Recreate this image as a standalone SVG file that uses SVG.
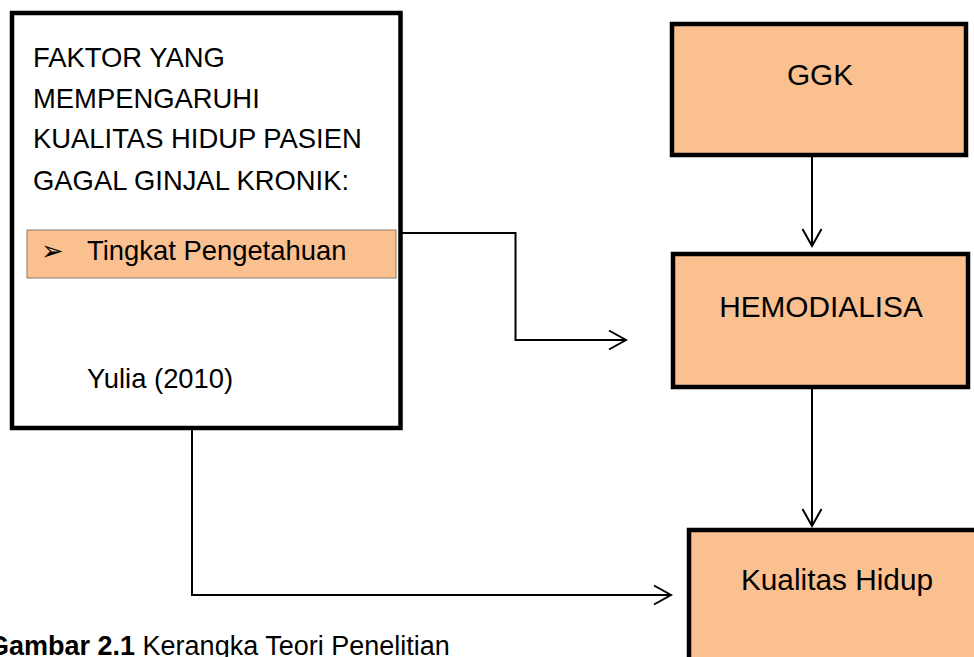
<svg xmlns="http://www.w3.org/2000/svg" width="974" height="657" viewBox="0 0 974 657">
<style>
.box{stroke:#000;stroke-width:4.5;}
.orange{fill:#FAC090;}
.t{font-family:"Liberation Sans",Arial,sans-serif;fill:#000;}
.l{font-size:27.4px;}
.r{font-size:29.8px;text-anchor:middle;}
.conn{fill:none;stroke:#000;stroke-width:2;}
</style>
<defs>
<marker id="arr" viewBox="-19 -11 21 22" markerWidth="21" markerHeight="22" refX="0" refY="0" orient="auto" markerUnits="userSpaceOnUse" overflow="visible">
<path d="M-17,-9.5 L0,0 L-17,9.5" fill="none" stroke="#000" stroke-width="2"/>
</marker>
</defs>
<rect width="974" height="657" fill="#fff"/>
<g id="connectors">
<polyline class="conn" points="402,233 515.5,233 515.5,340 626,340" marker-end="url(#arr)"/>
<line class="conn" x1="812" y1="157" x2="812" y2="246" marker-end="url(#arr)"/>
<line class="conn" x1="812" y1="389" x2="812" y2="526" marker-end="url(#arr)"/>
<polyline class="conn" points="192,430 192,595 671,595" marker-end="url(#arr)"/>
</g>
<g id="node-faktor">
<rect class="box" x="12" y="13" width="388.5" height="415" fill="#fff"/>
<text class="t l" x="33" y="67">FAKTOR YANG</text>
<text class="t l" x="33" y="107.5">MEMPENGARUHI</text>
<text class="t l" x="33" y="148">KUALITAS HIDUP PASIEN</text>
<text class="t l" x="33" y="190">GAGAL GINJAL KRONIK:</text>
<rect class="orange" x="27" y="230" width="369" height="48" stroke="#8C7B6B" stroke-width="1"/>
<text font-family="'DejaVu Sans',sans-serif" font-size="27" x="41" y="260">➢</text>
<text class="t l" x="87" y="260">Tingkat Pengetahuan</text>
<text class="t l" x="87" y="388">Yulia (2010)</text>
</g>
<g id="node-ggk">
<rect class="box orange" x="672" y="24" width="294" height="131" stroke-width="4"/>
<text class="t r" x="820" y="85">GGK</text>
</g>
<g id="node-hemodialisa">
<rect class="box orange" x="673" y="254" width="295" height="133" stroke-width="4"/>
<text class="t r" x="821" y="317">HEMODIALISA</text>
</g>
<g id="node-kualitas">
<rect class="box orange" x="689" y="530" width="300" height="200" stroke-width="4.3"/>
<text class="t r" x="837" y="590">Kualitas Hidup</text>
</g>
<text class="t" font-size="27" x="-12" y="655"><tspan font-weight="bold">Gambar 2.1</tspan> Kerangka Teori Penelitian</text>
</svg>
